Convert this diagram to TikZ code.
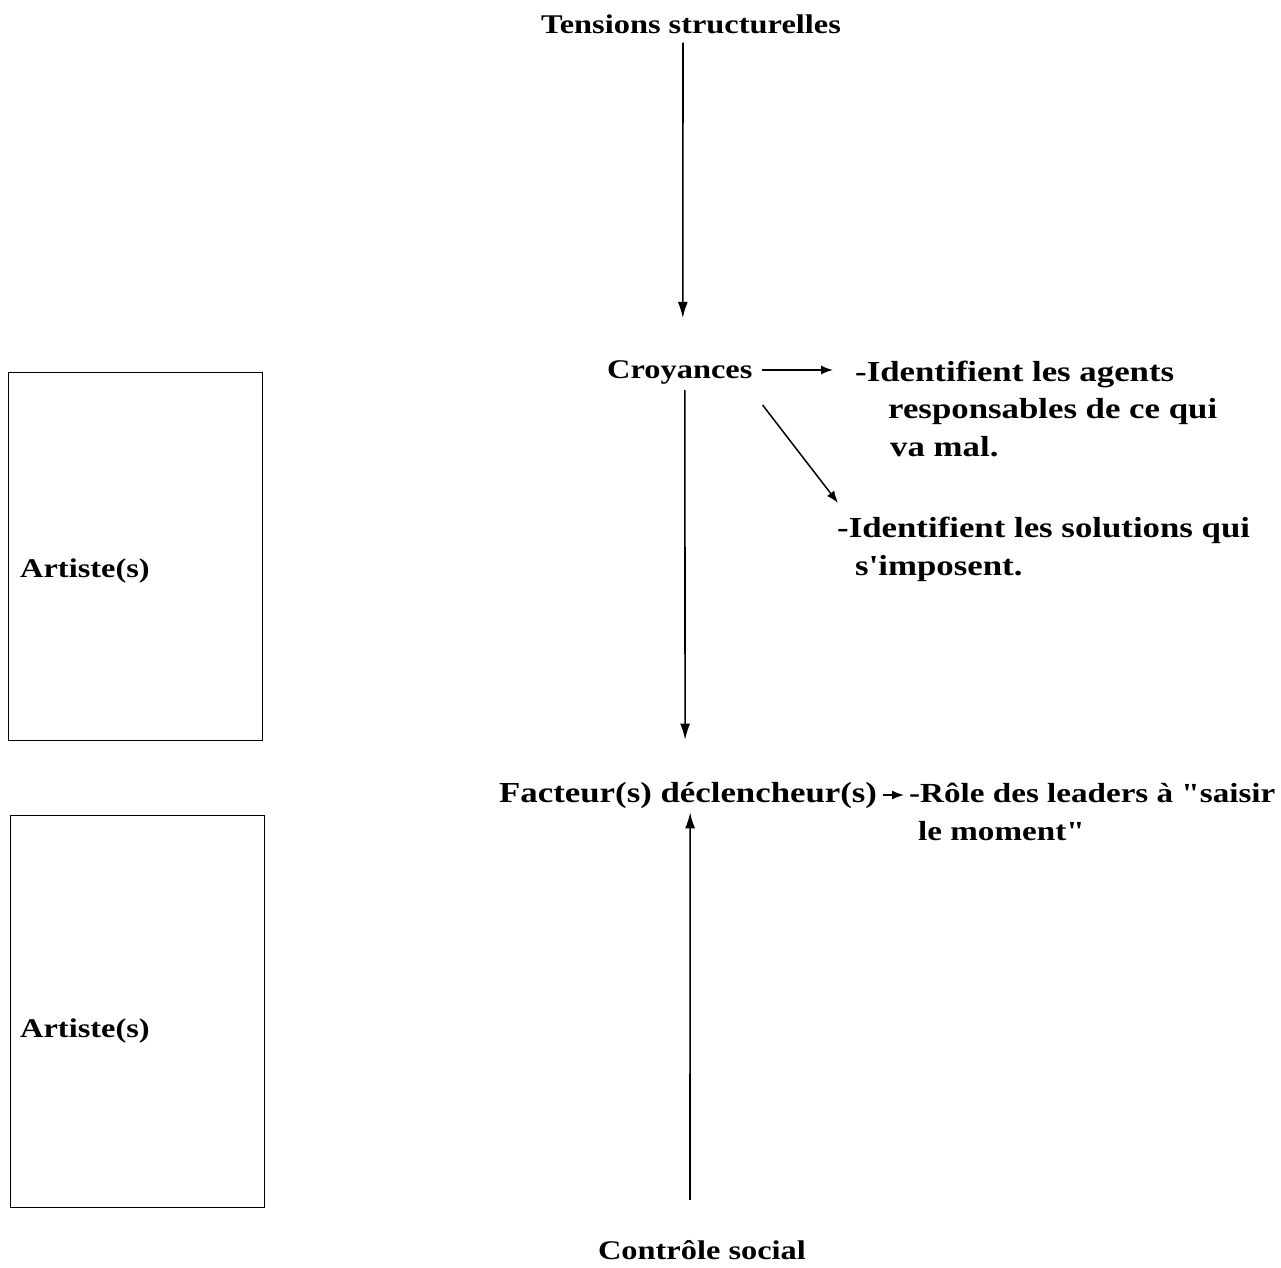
\documentclass[tikz,border=0pt]{standalone}
\usepackage{fontspec}
\setmainfont{Liberation Serif}[FakeStretch=1.2,Ligatures=TeXOff]
\usetikzlibrary{arrows.meta,calc}
\begin{document}
\begin{tikzpicture}[x=1pt,y=-1pt,
  txt/.style={inner sep=0pt,font=\fontsize{#1}{37.5}\selectfont\bfseries},
  txt/.default=27,
  arr/.style={line width=1.6pt,-{Latex[length=16pt,width=10pt]}},
  sarr/.style={line width=1.5pt,-{Latex[length=12pt,width=9pt]}},
  artbox/.style={draw,line width=1pt,inner sep=0pt,anchor=north west}]

  \useasboundingbox (0,0) rectangle (1281,1267);

  %% centre column
  \node[txt,anchor=base] (tens) at (691,33) {Tensions structurelles};
  \node[txt,anchor=base west] (croy) at (607,378) {Croyances};
  \node[txt=29,anchor=base west] (fact) at (499,802) {Facteur(s) déclencheur(s)};
  \node[txt,anchor=base] (ctrl) at (702,1259) {Contrôle social};

  %% right column (base = last line)
  \node[txt=29,anchor=base west,align=left] (agents) at (855,456)
  {-Identifient les agents\\\hspace*{33pt}responsables de ce qui\\\hspace*{35pt}va mal.};
  \node[txt=29,anchor=base west,align=left] (sols) at (837,575)
  {-Identifient les solutions qui\\\hspace*{18pt}s'imposent.};
  \node[txt=27.6,anchor=base west,align=left] (role) at (909,840)
  {-Rôle des leaders à "saisir\\\hspace*{9pt}le moment"};

  %% left boxes
  \node[artbox,minimum width=254pt,minimum height=368pt] (box1) at (8,372) {};
  \node[txt,anchor=base west] (art1) at (20,577) {Artiste(s)};
  \node[artbox,minimum width=254pt,minimum height=392pt] (box2) at (10,815) {};
  \node[txt,anchor=base west] (art2) at (20,1037) {Artiste(s)};

  \draw[arr] ($(tens.south)+(-8,9)$) -- ($(croy.north)+(3,-42)$); %% tens -> croy
  \draw[arr] ($(croy.south)+(5,6)$) -- ($(fact.north)+(-3,-42)$); %% croy -> fact
  \draw[arr] ($(ctrl.north)+(-12,-40)$) -- ($(fact.south)+(2,4)$); %% ctrl -> fact

  \draw[sarr] ($(croy.east)+(9,-2)$) -- ($(croy.east -| agents.west)+(-22,-2)$);
  \draw[sarr] ($(croy.south east)+(10,21)$) -- ($(sols.north west)+(1,-14)$);
  \draw[sarr] ($(fact.east)+(6,0)$) -- ($(fact.east -| role.west)+(-5,0)$);

\end{tikzpicture}
\end{document}
